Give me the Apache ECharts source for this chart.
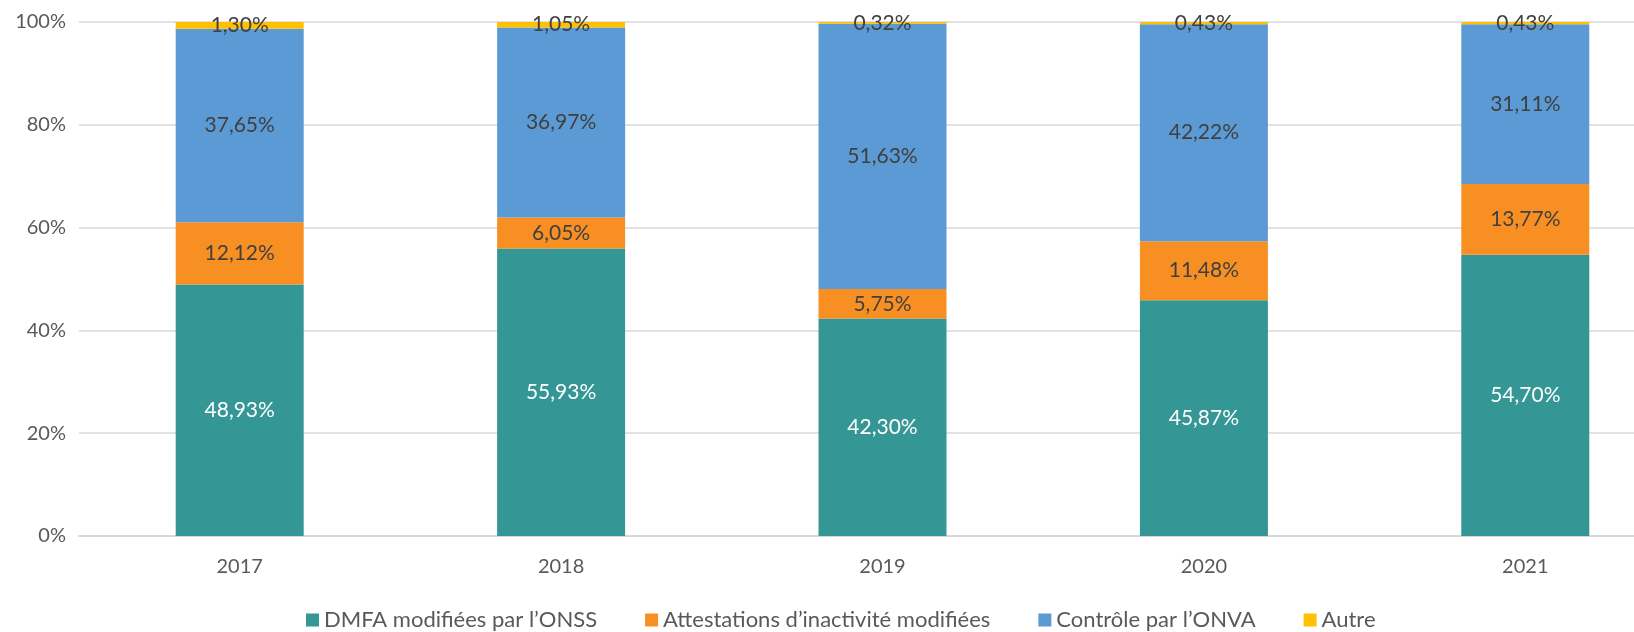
<!DOCTYPE html>
<html lang="fr">
<head>
    <meta charset="UTF-8">
    <title>Répartition par type</title>
    <script type="text/javascript" src="https://cdn.jsdelivr.net/npm/echarts@6/dist/echarts.min.js"></script>
    <style>
        html, body { margin: 0; padding: 0; background: #fff; overflow: hidden; }
        /* le graphique d'origine est rogné à droite : la zone de tracé dépasse la fenêtre */
        #chart { width: 1686px; height: 632px; }
    </style>
</head>
<body>
<div id="chart"></div>

<script type="text/javascript">
    // données (en %)
    var years = ['2017', '2018', '2019', '2020', '2021'];
    var dmfa = [48.93, 55.93, 42.30, 45.87, 54.70];
    var attestations = [12.12, 6.05, 5.75, 11.48, 13.77];
    var controle = [37.65, 36.97, 51.63, 42.22, 31.11];
    var autre = [1.30, 1.05, 0.32, 0.43, 0.43];

    var names = ['DMFA modifiées par l’ONSS', 'Attestations d’inactivité modifiées', 'Contrôle par l’ONVA', 'Autre'];
    var colors = ['#349795', '#F88F23', '#5B9AD5', '#FFC000'];

    var FONT = 'Lato';

    function pct(p) {
        return p.value.toFixed(2).replace('.', ',') + '%';
    }

    function serie(name, data, labelColor) {
        return {
            name: name,
            type: 'bar',
            stack: 'total',
            barWidth: 128,
            data: data,
            label: {
                show: true,
                position: 'inside',
                formatter: pct,
                color: labelColor,
                fontFamily: FONT,
                fontSize: 21
            }
        };
    }

    var myChart = echarts.init(document.getElementById('chart'));
    myChart.setOption({
        color: colors,
        animation: false,
        textStyle: { fontFamily: FONT },
        grid: {
            left: 79,
            right: 0,
            top: 22,
            bottom: 96
        },
        legend: {
            left: 301,
            top: 604,
            itemWidth: 13,
            itemHeight: 13,
            itemGap: 48,
            icon: 'rect',
            textStyle: { color: '#595959', fontSize: 22, fontFamily: FONT },
            data: names
        },
        xAxis: {
            type: 'category',
            data: years,
            axisTick: { show: false },
            axisLine: { lineStyle: { color: '#D9D9D9', width: 2 } },
            axisLabel: { color: '#595959', fontSize: 20, margin: 21, fontFamily: FONT }
        },
        yAxis: {
            type: 'value',
            min: 0,
            max: 100,
            interval: 20,
            axisLine: { show: false },
            axisTick: { show: false },
            axisLabel: { formatter: '{value}%', color: '#595959', fontSize: 20, margin: 13, fontFamily: FONT },
            splitLine: { lineStyle: { color: '#D9D9D9', width: 1.5 } }
        },
        series: [
            serie(names[0], dmfa, '#FFFFFF'),
            serie(names[1], attestations, '#404040'),
            serie(names[2], controle, '#404040'),
            serie(names[3], autre, '#404040')
        ]
    });
</script>

</body>
</html>
